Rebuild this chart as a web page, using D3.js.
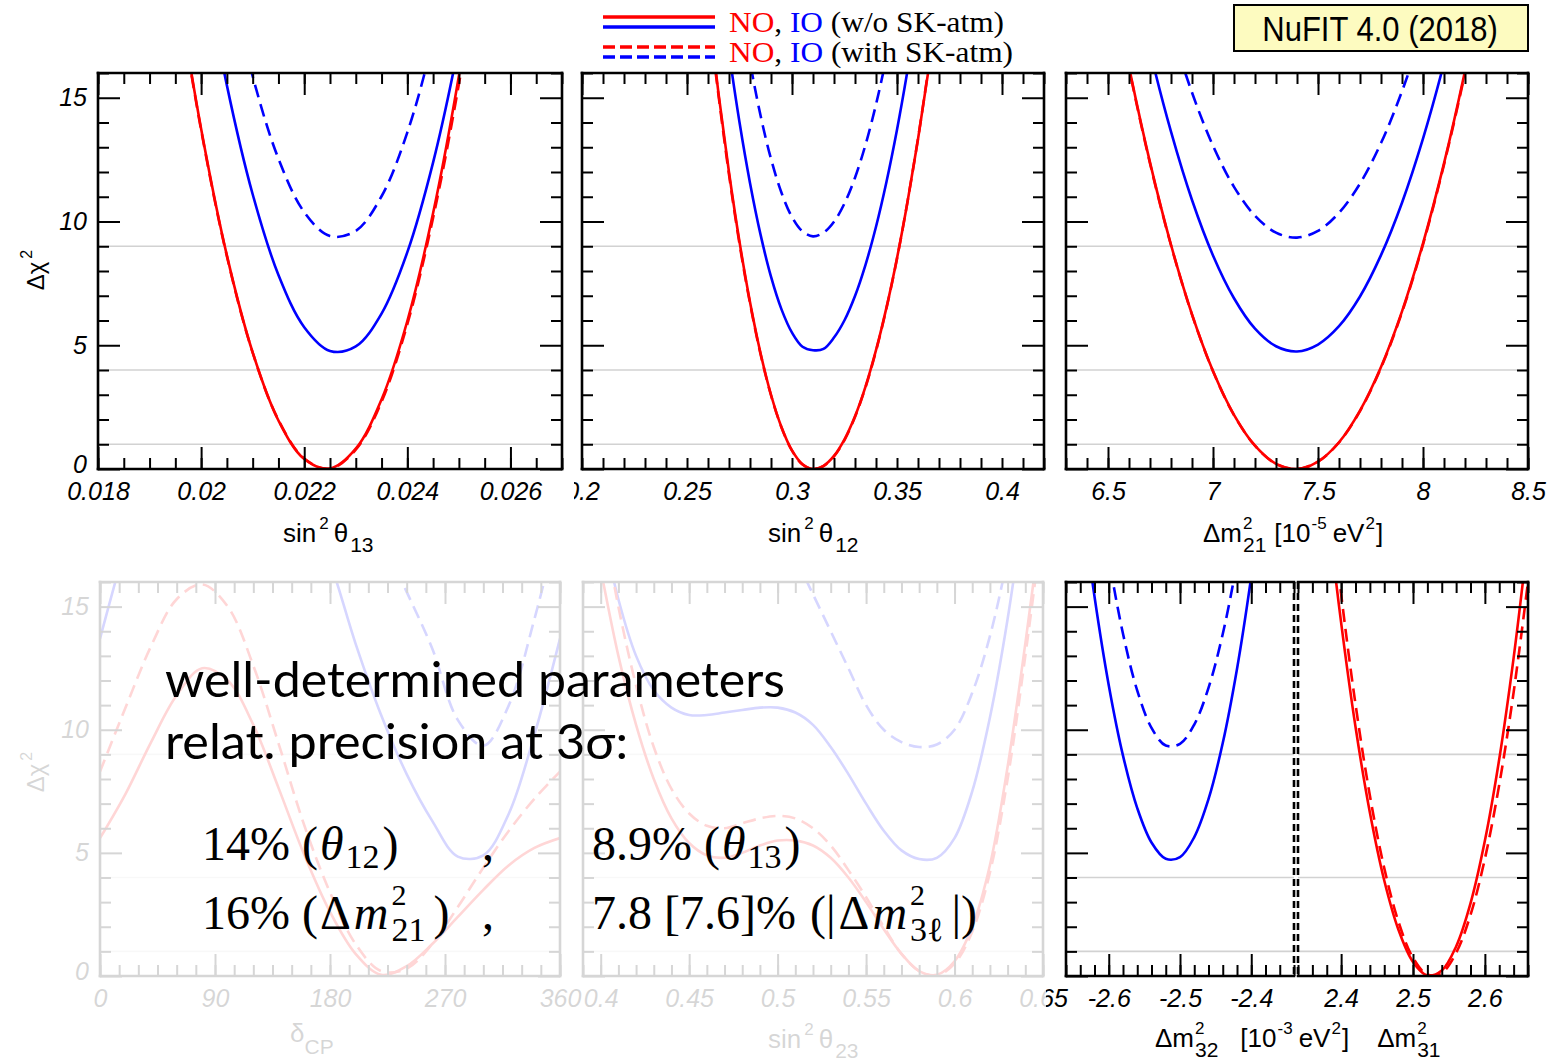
<!DOCTYPE html>
<html>
<head>
<meta charset="utf-8">
<script src="https://cdn.jsdelivr.net/npm/d3@7"></script>
<style>
  body { margin: 0; background: #fff; }
  svg { display: block; }
  text { white-space: pre; }
  .tick text { font-family: "Liberation Sans", Arial, sans-serif; font-style: italic; font-size: 25px; fill: #000; }
  .tick line { stroke: #000; stroke-width: 2; }
</style>
</head>
<body>
<svg id="chart" width="1554" height="1061"></svg>
<script>
// ---- data ----
const chiLevels = [1, 4, 9];
const yMajor = [0, 5, 10, 15];
const yMinor = [1, 2, 3, 4, 6, 7, 8, 9, 11, 12, 13, 14, 16];

// sin^2 theta13
const s13Ticks = [0.018, 0.02, 0.022, 0.024, 0.026];
const s13 = [0.0195, 0.0200, 0.0205, 0.0210, 0.0215, 0.0220, 0.0225, 0.0230, 0.0235, 0.0240, 0.0245, 0.0250, 0.0255];
const s13_NO   = [20.0, 13.75, 8.63, 4.71, 1.96, 0.40, 0.02, 0.82, 2.81, 5.98, 10.34, 15.88, 22.6];
const s13_NOsk = [19.9, 13.7, 8.6, 4.7, 1.98, 0.42, 0.01, 0.78, 2.72, 5.85, 10.15, 15.55, 22.0];
const s13_IO   = [27.8, 21.1, 15.5, 11.1, 7.84, 5.73, 4.77, 4.95, 6.28, 8.76, 12.39, 17.16, 23.1];
const s13_IOsk = [33.0, 26.1, 20.4, 15.87, 12.54, 10.38, 9.41, 9.62, 11.02, 13.6, 17.36, 22.3, 28.4];

// sin^2 theta12
const s12Ticks = [0.2, 0.25, 0.3, 0.35, 0.4];
const s12 = [0.255, 0.26, 0.265, 0.27, 0.275, 0.28, 0.285, 0.29, 0.295, 0.30, 0.305, 0.31, 0.315,
             0.32, 0.325, 0.33, 0.335, 0.34, 0.345, 0.35, 0.355, 0.36, 0.365, 0.37, 0.375];
const s12_NO   = [22.7, 18.74, 15.18, 11.99, 9.18, 6.75, 4.69, 3.0, 1.69, 0.75, 0.19, 0, 0.13,
                  0.53, 1.20, 2.13, 3.33, 4.80, 6.53, 8.52, 10.79, 13.32, 16.12, 19.18, 22.5];
const s12_NOsk = [22.5, 18.6, 15.1, 11.9, 9.1, 6.7, 4.65, 2.98, 1.68, 0.74, 0.18, 0, 0.12,
                  0.51, 1.17, 2.1, 3.3, 4.77, 6.5, 8.5, 10.8, 13.35, 16.2, 19.3, 22.7];
const s12_IO   = [27.6, 23.65, 20.06, 16.85, 14.01, 11.56, 9.48, 7.77, 6.45, 5.51, 4.94, 4.8, 4.85,
                  5.31, 6.01, 6.99, 8.25, 9.79, 11.61, 13.71, 16.10, 18.76, 21.7, 24.9, 28.4];
const s12_IOsk = [33.1, 29.0, 25.3, 21.9, 19.0, 16.45, 14.29, 12.53, 11.16, 10.18, 9.6, 9.4, 9.55,
                  9.99, 10.73, 11.77, 13.1, 14.73, 16.65, 18.87, 21.4, 24.2, 27.3, 30.7, 34.4];

// Delta m^2_21
const m21Ticks = [6.5, 7, 7.5, 8, 8.5];
const m21 = [6.4, 6.5, 6.6, 6.7, 6.8, 6.9, 7.0, 7.1, 7.2, 7.3, 7.4, 7.5, 7.6, 7.7, 7.8, 7.9, 8.0, 8.1, 8.2, 8.3, 8.4];
const m21_NO   = [25.5, 20.62, 16.25, 12.39, 9.06, 6.25, 3.96, 2.19, 0.94, 0.21, 0.0, 0.30, 1.08, 2.36, 4.12, 6.37, 9.12, 12.35, 16.08, 20.29, 25.0];
const m21_NOsk = [25.3, 20.5, 16.2, 12.35, 9.04, 6.24, 3.95, 2.18, 0.94, 0.21, 0.0, 0.30, 1.07, 2.34, 4.09, 6.33, 9.07, 12.3, 16.0, 20.2, 24.9];
const m21_IO   = [29.75, 24.95, 20.67, 16.89, 13.63, 10.87, 8.63, 6.9, 5.67, 4.96, 4.75, 5.03, 5.77, 6.97, 8.64, 10.76, 13.35, 16.4, 19.92, 23.9, 28.3];
const m21_IOsk = [33.3, 28.7, 24.6, 21.0, 17.85, 15.21, 13.06, 11.4, 10.23, 9.55, 9.35, 9.62, 10.35, 11.53, 13.17, 15.26, 17.8, 20.8, 24.3, 28.2, 32.5];

// delta_CP
const dcpTicks = [0, 90, 180, 270, 360];
const dcp = [0, 20, 40, 60, 80, 100, 120, 140, 160, 180, 200, 220, 240, 260, 280, 300, 320, 340, 360];
const dcp_NO   = [5.6, 7.4, 9.5, 11.4, 12.5, 12.0, 10.2, 7.6, 4.9, 2.6, 0.9, 0.05, 0.4, 1.3, 2.4, 3.5, 4.5, 5.2, 5.6];
const dcp_NOsk = [8.3, 10.9, 13.4, 15.3, 15.9, 15.0, 12.6, 9.4, 6.1, 3.4, 1.3, 0.2, 0.3, 1.3, 2.8, 4.4, 5.9, 7.2, 8.3];
const dcp_IO   = [13.7, 17.5, 21.0, 23.5, 24.8, 25.0, 23.8, 21.5, 19.2, 16.8, 13.5, 10.6, 8.2, 6.3, 4.85, 4.9, 6.6, 9.8, 13.7];
const dcp_IOsk = [18.6, 22.5, 26.0, 28.5, 29.8, 30.0, 29.0, 27.0, 25.0, 22.5, 20.0, 17.8, 15.6, 13.3, 10.4, 9.35, 11.0, 14.5, 18.6];

// sin^2 theta23
const s23Ticks = [0.4, 0.45, 0.5, 0.55, 0.6, 0.65];
const s23 = [0.39, 0.40, 0.41, 0.42, 0.43, 0.44, 0.45, 0.46, 0.47, 0.48, 0.49, 0.50, 0.51, 0.52,
             0.53, 0.54, 0.55, 0.56, 0.57, 0.58, 0.59, 0.60, 0.61, 0.62, 0.63, 0.64, 0.65];
const s23_NO   = [20, 16.5, 13.0, 10.2, 8.0, 6.4, 5.4, 4.9, 4.8, 5.0, 5.3, 5.5, 5.5, 5.3,
                  4.8, 4.0, 3.0, 1.9, 0.9, 0.2, 0.05, 0.6, 2.0, 4.5, 8.5, 13.5, 19];
const s23_NOsk = [23, 19, 15, 11.8, 9.3, 7.6, 6.6, 6.1, 6.0, 6.2, 6.4, 6.5, 6.4, 6.0,
                  5.3, 4.3, 3.2, 2.0, 0.9, 0.2, 0.02, 0.5, 1.8, 4.2, 8.0, 13, 18.5];
const s23_IO   = [22, 18.5, 15.3, 13.0, 11.6, 10.9, 10.6, 10.6, 10.7, 10.8, 10.9, 10.9, 10.7, 10.2,
                  9.3, 8.2, 7.0, 5.9, 5.1, 4.75, 4.8, 5.6, 7.5, 10.5, 14.5, 19.5, 25];
const s23_IOsk = [30, 28, 26, 24.5, 23, 22, 21.5, 21, 20.5, 20, 19.5, 18.5, 17, 15.5,
                  14, 12.5, 11.0, 10.0, 9.5, 9.3, 9.4, 10.0, 11.5, 13.8, 17, 21, 26];

// Delta m^2_32 (IO) and Delta m^2_31 (NO)
const m32Ticks = [-2.6, -2.5, -2.4];
const m32 = [-2.66, -2.64, -2.62, -2.60, -2.58, -2.56, -2.54, -2.52, -2.50, -2.48, -2.46, -2.44, -2.42, -2.40, -2.38, -2.36];
const m32_IO   = [24.8, 19.75, 15.41, 11.81, 8.95, 6.82, 5.42, 4.76, 4.83, 5.64, 7.18, 9.46, 12.47, 16.22, 20.7, 25.9];
const m32_IOsk = [31.1, 25.6, 20.9, 17.0, 13.9, 11.59, 10.08, 9.36, 9.43, 10.21, 11.7, 13.89, 16.8, 20.4, 24.7, 29.8];
const m31Ticks = [2.4, 2.5, 2.6];
const m31 = [2.34, 2.36, 2.38, 2.40, 2.42, 2.44, 2.46, 2.48, 2.50, 2.52, 2.54, 2.56, 2.58, 2.60, 2.62, 2.64, 2.66];
const m31_NO   = [31.4, 25.0, 19.31, 14.35, 10.12, 6.64, 3.88, 1.86, 0.57, 0.02, 0.22, 1.2, 2.95, 5.49, 8.81, 12.92, 17.8];
const m31_NOsk = [33.5, 26.7, 20.7, 15.51, 11.04, 7.33, 4.38, 2.18, 0.74, 0.06, 0.13, 0.94, 2.48, 4.76, 7.77, 11.52, 16.0];

const red = '#ff0000', blue = '#0000ff';
const sans = '"Liberation Sans", Arial, Helvetica, sans-serif';
const serif = '"Liberation Serif", "Times New Roman", serif';

const svg = d3.select('#chart');
const defs = svg.append('defs');
let clipCount = 0;

function addClip(x, y, w, h) {
  const id = 'clip' + (clipCount++);
  defs.append('clipPath').attr('id', id).append('rect')
    .attr('x', x).attr('y', y).attr('width', w).attr('height', h);
  return `url(#${id})`;
}

function stepTicks(domain, step) {
  const a = Math.ceil(domain[0] / step - 1e-6), b = Math.floor(domain[1] / step + 1e-6);
  return d3.range(a, b + 1).map(i => +(i * step).toFixed(6));
}

function drawPanel(p) {
  const g = svg.append('g');
  const x = d3.scaleLinear().domain(p.domain).range([p.left, p.right]);
  const y = d3.scaleLinear().domain([0, 16]).range([p.bottom, p.top]);
  const clip = addClip(p.left, p.top, p.right - p.left, p.bottom - p.top);

  // reference levels
  g.selectAll('line.lvl').data(chiLevels).join('line')
    .attr('x1', p.left).attr('x2', p.right)
    .attr('y1', d => y(d)).attr('y2', d => y(d))
    .attr('stroke', '#d2d2d2').attr('stroke-width', 1.6);

  // curves
  const line = d3.line().x(d => x(d[0])).y(d => y(d[1])).curve(d3.curveCatmullRom);
  p.series.forEach(s => {
    g.append('path')
      .attr('clip-path', clip)
      .attr('d', line(d3.zip(s.x, s.y)))
      .attr('fill', 'none')
      .attr('stroke', s.color)
      .attr('stroke-width', 2.6)
      .attr('stroke-dasharray', s.dash ? '13,7' : null);
  });

  const minor = stepTicks(p.domain, p.minorStep);

  // bottom / top ticks
  g.append('g').attr('transform', `translate(0,${p.bottom})`)
    .call(d3.axisBottom(x).tickValues(minor).tickSize(-11).tickFormat(''))
    .call(a => a.select('.domain').remove());
  const bottomMajor = g.append('g').attr('transform', `translate(0,${p.bottom})`)
    .call(d3.axisBottom(x).tickValues(p.ticks).tickSize(-22).tickPadding(13).tickFormat(d => String(d)))
    .call(a => a.select('.domain').remove());
  if (p.labelClip) bottomMajor.attr('clip-path', addClip(p.labelClip, 0, 2000, 2000));
  g.append('g').attr('transform', `translate(0,${p.top})`)
    .call(d3.axisTop(x).tickValues(minor).tickSize(-11).tickFormat(''))
    .call(a => a.select('.domain').remove());
  g.append('g').attr('transform', `translate(0,${p.top})`)
    .call(d3.axisTop(x).tickValues(p.ticks).tickSize(-22).tickFormat(''))
    .call(a => a.select('.domain').remove());

  // left / right ticks
  if (p.yLeft !== false) {
    g.append('g').attr('transform', `translate(${p.left},0)`)
      .call(d3.axisLeft(y).tickValues(yMinor).tickSize(-11).tickFormat(''))
      .call(a => a.select('.domain').remove());
    g.append('g').attr('transform', `translate(${p.left},0)`)
      .call(d3.axisLeft(y).tickValues(yMajor).tickSize(-22).tickPadding(11)
        .tickFormat(p.yLabels ? (d => String(d)) : ''))
      .call(a => a.select('.domain').remove())
      .call(a => a.selectAll('text').attr('dy', d => d === 0 ? '0.12em' : '0.32em'));
  }
  if (p.yRight !== false) {
    g.append('g').attr('transform', `translate(${p.right},0)`)
      .call(d3.axisRight(y).tickValues(yMinor).tickSize(-11).tickFormat(''))
      .call(a => a.select('.domain').remove());
    g.append('g').attr('transform', `translate(${p.right},0)`)
      .call(d3.axisRight(y).tickValues(yMajor).tickSize(-22).tickFormat(''))
      .call(a => a.select('.domain').remove());
  }

  // frame
  const frame = [
    [p.left, p.top, p.right, p.top, false],
    [p.left, p.bottom, p.right, p.bottom, false],
    [p.left, p.top, p.left, p.bottom, !!p.dashLeft],
    [p.right, p.top, p.right, p.bottom, !!p.dashRight]
  ];
  g.selectAll('line.frame').data(frame).join('line')
    .attr('x1', d => d[0]).attr('y1', d => d[1]).attr('x2', d => d[2]).attr('y2', d => d[3])
    .attr('stroke', '#000').attr('stroke-width', 2.6)
    .attr('stroke-linecap', d => d[4] ? 'butt' : 'square')
    .attr('stroke-dasharray', d => d[4] ? '7,4' : null);
  return g;
}

// rich text with super/subscripts
function rich(parent, x, y, size, family, parts, anchor) {
  const t = parent.append('text').attr('x', x).attr('y', y)
    .attr('font-size', size).attr('font-family', family)
    .attr('text-anchor', anchor || 'start').attr('fill', '#000');
  let cur = 0;
  parts.forEach(pt => {
    const shift = pt.shift || 0;
    t.append('tspan')
      .attr('dy', shift - cur)
      .attr('dx', pt.dx || 0)
      .attr('font-size', pt.size || size)
      .attr('font-style', pt.italic ? 'italic' : null)
      .attr('fill', pt.fill || null)
      .text(pt.t);
    cur = shift;
  });
  return t;
}
const SUP = { size: 17, shift: -13 };
const SUB = { size: 21, shift: 10 };

function series(xs, no, nosk, io, iosk) {
  const out = [];
  if (iosk) out.push({ x: xs, y: iosk, color: blue, dash: true });
  if (io) out.push({ x: xs, y: io, color: blue });
  if (nosk) out.push({ x: xs, y: nosk, color: red, dash: true });
  if (no) out.push({ x: xs, y: no, color: red });
  return out;
}

// ---- bottom-left (faded) panels ----
drawPanel({ left: 100, right: 560, top: 582, bottom: 976, domain: [0, 360], ticks: dcpTicks, minorStep: 15,
  yLabels: true, series: series(dcp, dcp_NO, dcp_NOsk, dcp_IO, dcp_IOsk) });
drawPanel({ left: 583, right: 1043, top: 582, bottom: 976, domain: [0.39, 0.65], ticks: s23Ticks, minorStep: 0.01,
  series: series(s23, s23_NO, s23_NOsk, s23_IO, s23_IOsk) });
const titles = svg.append('g');
rich(titles, 290, 1042, 26, sans, [{ t: 'δ' }, { t: 'CP', ...SUB, shift: 12 }]);
rich(titles, 768, 1048, 26, sans, [{ t: 'sin' }, { t: '2', ...SUP, dx: 3 }, { t: 'θ', dx: 5 }, { t: '23', ...SUB, dx: 2 }]);
titles.append('g').attr('transform', 'translate(44,772) rotate(-90)')
  .call(gg => rich(gg, 0, 0, 24, sans, [{ t: 'Δχ' }, { t: '2', size: 16, shift: -12, dx: 3 }], 'middle'));

// fade overlay
svg.append('rect').attr('x', 0).attr('y', 572).attr('width', 1046).attr('height', 489)
  .attr('fill', '#fff').attr('opacity', 0.84);

// ---- top row ----
drawPanel({ left: 98, right: 562, top: 73, bottom: 469, domain: [0.018, 0.027], ticks: s13Ticks, minorStep: 0.0005,
  yLabels: true, series: series(s13, s13_NO, s13_NOsk, s13_IO, s13_IOsk) });
drawPanel({ left: 582, right: 1044, top: 73, bottom: 469, domain: [0.2, 0.42], ticks: s12Ticks, minorStep: 0.01,
  labelClip: 574, series: series(s12, s12_NO, s12_NOsk, s12_IO, s12_IOsk) });
drawPanel({ left: 1066, right: 1528, top: 73, bottom: 469, domain: [6.3, 8.5], ticks: m21Ticks, minorStep: 0.1,
  series: series(m21, m21_NO, m21_NOsk, m21_IO, m21_IOsk) });

// ---- bottom-right split panel ----
drawPanel({ left: 1066, right: 1294, top: 582, bottom: 976, domain: [-2.66, -2.34], ticks: m32Ticks, minorStep: 0.02,
  yRight: false, dashRight: true, series: series(m32, null, null, m32_IO, m32_IOsk) });
drawPanel({ left: 1298, right: 1528, top: 582, bottom: 976, domain: [2.34, 2.66], ticks: m31Ticks, minorStep: 0.02,
  yLeft: false, dashLeft: true, series: series(m31, m31_NO, m31_NOsk, null, null) });

// axis titles
const t2 = svg.append('g');
rich(t2, 283, 542, 26, sans, [{ t: 'sin' }, { t: '2', ...SUP, dx: 3 }, { t: 'θ', dx: 5 }, { t: '13', ...SUB, dx: 2 }]);
rich(t2, 768, 542, 26, sans, [{ t: 'sin' }, { t: '2', ...SUP, dx: 3 }, { t: 'θ', dx: 5 }, { t: '12', ...SUB, dx: 2 }]);
rich(t2, 1203, 542, 26, sans, [{ t: 'Δm' }, { t: '2', ...SUP, dx: 1 }, { t: '21', ...SUB, dx: -9.5 },
  { t: '[10', dx: 8 }, { t: '-5', ...SUP, dx: 1 }, { t: 'eV', dx: 6 }, { t: '2', ...SUP, dx: 1 }, { t: ']', dx: 1 }]);
rich(t2, 1155, 1047, 26, sans, [{ t: 'Δm' }, { t: '2', ...SUP, dx: 1 }, { t: '32', ...SUB, dx: -9.5 },
  { t: '[10', dx: 22 }, { t: '-3', ...SUP, dx: 1 }, { t: 'eV', dx: 6 }, { t: '2', ...SUP, dx: 1 }, { t: ']', dx: 1 },
  { t: 'Δm', dx: 28 }, { t: '2', ...SUP, dx: 1 }, { t: '31', ...SUB, dx: -9.5 }]);
t2.append('g').attr('transform', 'translate(44,270) rotate(-90)')
  .call(gg => rich(gg, 0, 0, 24, sans, [{ t: 'Δχ' }, { t: '2', size: 16, shift: -12, dx: 3 }], 'middle'));

// ---- legend ----
const legend = svg.append('g');
const legendRows = [
  { y: 17, color: red, dash: false }, { y: 27, color: blue, dash: false },
  { y: 47, color: red, dash: true }, { y: 57, color: blue, dash: true }
];
legend.selectAll('line').data(legendRows).join('line')
  .attr('x1', 603).attr('x2', 715).attr('y1', d => d.y).attr('y2', d => d.y)
  .attr('stroke', d => d.color).attr('stroke-width', 3.5)
  .attr('stroke-dasharray', d => d.dash ? '12,5' : null);
rich(legend, 729, 32, 29, serif, [{ t: 'NO', fill: red }, { t: ', ' }, { t: 'IO', fill: blue }, { t: ' (w/o SK-atm)' }])
  .attr('textLength', 275).attr('lengthAdjust', 'spacingAndGlyphs');
rich(legend, 729, 62, 29, serif, [{ t: 'NO', fill: red }, { t: ', ' }, { t: 'IO', fill: blue }, { t: ' (with SK-atm)' }])
  .attr('textLength', 284).attr('lengthAdjust', 'spacingAndGlyphs');

// NuFIT tag
svg.append('rect').attr('x', 1234).attr('y', 5).attr('width', 294).attr('height', 46)
  .attr('fill', '#fdfbc0').attr('stroke', '#000').attr('stroke-width', 2);
svg.append('text').attr('transform', 'translate(1380,41) scale(1,1.16)')
  .attr('text-anchor', 'middle').attr('font-family', sans).attr('font-size', 31)
  .text('NuFIT 4.0 (2018)');

// ---- overlay statement ----
const note = svg.append('g');
note.append('text').attr('x', 165).attr('y', 697).attr('font-family', 'Lato, "Open Sans", sans-serif')
  .attr('font-size', 48).attr('textLength', 620).attr('lengthAdjust', 'spacingAndGlyphs')
  .text('well-determined parameters');
note.append('text').attr('x', 165).attr('y', 759).attr('font-family', 'Lato, "Open Sans", sans-serif')
  .attr('font-size', 48).attr('textLength', 463).attr('lengthAdjust', 'spacingAndGlyphs')
  .text('relat. precision at 3σ:');

const M = 48, MS = 34, MS2 = 30;
rich(note, 202, 860, M, serif, [{ t: '14%' }, { t: '(', dx: 12 }, { t: 'θ', italic: true, dx: 2 },
  { t: '12', size: MS, shift: 8, dx: 2 }, { t: ')', dx: 3 }]);
rich(note, 482, 860, M, serif, [{ t: ',' }]);
rich(note, 202, 929, M, serif, [{ t: '16%' }, { t: '(', dx: 12 }, { t: 'Δ', dx: 2 }, { t: 'm', italic: true, dx: 3 },
  { t: '2', size: MS2, shift: -24, dx: 3 }, { t: '21', size: MS, shift: 12, dx: -15 }, { t: ')', dx: 8 }]);
rich(note, 482, 929, M, serif, [{ t: ',' }]);
rich(note, 592, 860, M, serif, [{ t: '8.9%' }, { t: '(', dx: 12 }, { t: 'θ', italic: true, dx: 2 },
  { t: '13', size: MS, shift: 8, dx: 2 }, { t: ')', dx: 3 }]);
rich(note, 592, 929, M, serif, [{ t: '7.8' }, { t: '[7.6]%', dx: 12 }, { t: '(|', dx: 14 }, { t: 'Δ', dx: 3 }, { t: 'm', italic: true, dx: 3 },
  { t: '2', size: MS2, shift: -24, dx: 3 }, { t: '3ℓ', size: MS, shift: 12, dx: -15 }, { t: '|)', dx: 8 }]);
</script>
</body>
</html>
